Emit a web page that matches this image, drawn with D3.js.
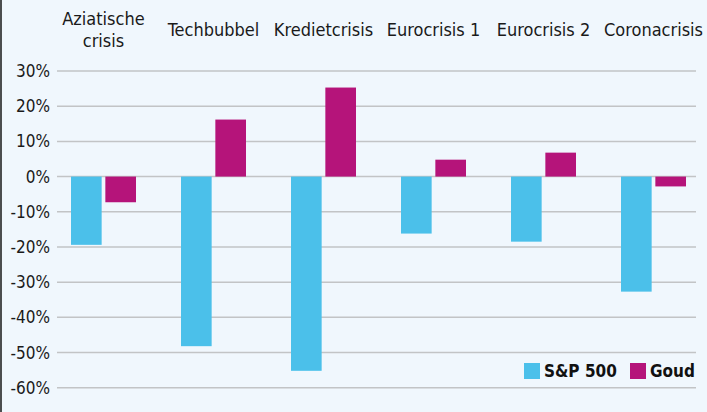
<!DOCTYPE html>
<html><head><meta charset="utf-8">
<script src="https://cdn.jsdelivr.net/npm/d3@7"></script>
<style>
html,body{margin:0;padding:0;background:#f0f7fd;}
text{font-family:"DejaVu Sans Condensed","Liberation Sans Narrow","Roboto",sans-serif;font-stretch:condensed;}
</style></head>
<body>
<svg id="c" width="707" height="412"></svg>
<script>
const categories = [["Aziatische","crisis"],["Techbubbel"],["Kredietcrisis"],["Eurocrisis 1"],["Eurocrisis 2"],["Coronacrisis"]];
const sp500 = [-19.4, -48.2, -55.2, -16.2, -18.5, -32.7];
const goud = [-7.3, 16.2, 25.3, 4.8, 6.8, -2.8];
const yTicks = [30, 20, 10, 0, -10, -20, -30, -40, -50, -60];
const seriesNames = ["S&P 500", "Goud"];
const colors = ["#4bc0ea", "#b5147a"];

const svg = d3.select("#c");
svg.append("rect").attr("width",707).attr("height",412).attr("fill","#f0f7fd");
svg.append("line").attr("x1",1).attr("x2",1).attr("y1",0).attr("y2",412).attr("stroke","#222").attr("stroke-width",1.6);

const keys = categories.map(c => c.join(" "));
const x = d3.scaleBand().domain(keys).range([48.5, 708.5]);
const x1 = d3.scaleBand().domain(seriesNames).range([-32.5, 32.5]).paddingInner(7/65);
const y = d3.scaleLinear().domain([-60, 30]).range([387.7, 71]);

// grid
svg.append("g").selectAll("line").data(yTicks).join("line")
  .attr("x1",57).attr("x2",696)
  .attr("y1",d=>y(d)).attr("y2",d=>y(d))
  .attr("stroke","#c2c4c6").attr("stroke-width",1.5);

// y labels
svg.append("g").selectAll("text").data(yTicks).join("text")
  .attr("x",50).attr("y",d=>y(d)).attr("dy","0.36em")
  .attr("text-anchor","end").attr("font-size",17).attr("fill","#1a1a1a")
  .text(d=>d+"%");

// bars
const series = [sp500, goud];
series.forEach((vals, si) => {
  svg.append("g").selectAll("rect").data(vals).join("rect")
    .attr("x",(d,i)=>x(keys[i]) + x.bandwidth()/2 + x1(seriesNames[si]))
    .attr("width",x1.bandwidth())
    .attr("y",d=>y(Math.max(0,d)))
    .attr("height",d=>Math.abs(y(d)-y(0)))
    .attr("fill",colors[si]);
});

// category labels
categories.forEach((c,i) => {
  const cx = x(keys[i]) + x.bandwidth()/2;
  const t = svg.append("text").attr("text-anchor","middle").attr("font-size",18).attr("fill","#1a1a1a");
  if (c.length === 1) {
    t.append("tspan").attr("x",cx).attr("y",36).text(c[0]);
  } else {
    t.append("tspan").attr("x",cx).attr("y",25).text(c[0]);
    t.append("tspan").attr("x",cx).attr("y",46.5).text(c[1]);
  }
});

// legend
const legX = [524, 630];
seriesNames.forEach((n,i) => {
  const g = svg.append("g").attr("transform",`translate(${legX[i]},363)`);
  g.append("rect").attr("width",16).attr("height",16).attr("fill",colors[i]);
  g.append("text").attr("x",20).attr("y",8).attr("dy","0.36em")
    .attr("font-size",17).attr("font-weight","bold").attr("fill","#111").text(n);
});
</script>
</body></html>
